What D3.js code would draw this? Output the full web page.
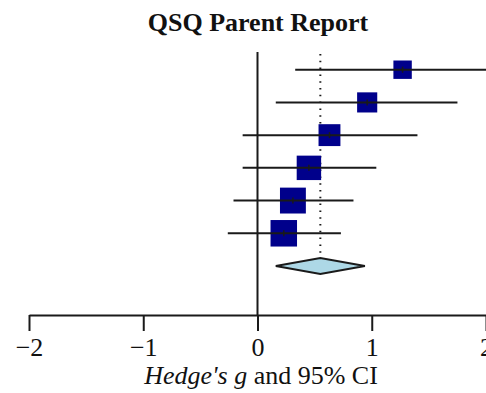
<!DOCTYPE html>
<html>
<head>
<meta charset="utf-8">
<script src="https://cdn.jsdelivr.net/npm/d3@7"></script>
<style>
  html, body { margin: 0; padding: 0; background: #fff; }
  svg { display: block; }
  text { font-family: "Liberation Serif", "Times New Roman", serif; fill: #111; }
</style>
</head>
<body>
<svg id="chart" width="486" height="393"></svg>
<script>
// Study-level effect sizes (Hedges' g) with 95% confidence limits
const studies = ["S1", "S2", "S3", "S4", "S5", "S6"];
const effects = [1.27, 0.96, 0.63, 0.45, 0.31, 0.23];
const lower   = [0.33, 0.16, -0.13, -0.13, -0.21, -0.26];
const upper   = [2.20, 1.75, 1.40, 1.04, 0.84, 0.73];
const weights = [10.6, 12.7, 15.0, 18.7, 21.0, 22.0];   // relative study weight (%)

// Pooled estimate
const pooled = { est: 0.55, lo: 0.16, hi: 0.94 };

const xTicks = [-2, -1, 0, 1, 2];
const titleText = "QSQ Parent Report";

const svg = d3.select("#chart");

const x = d3.scaleLinear().domain([-2, 2]).range([29, 486]);
const y = d3.scaleLinear().domain([0, studies.length]).range([69.7, 266]);
const side = d3.scaleSqrt().domain([0, d3.max(weights)]).range([0, 26.5]);

const axisY = 315;
const stroke = "#1a1a1a";

// Title
svg.append("text")
  .attr("x", 258).attr("y", 31)
  .attr("text-anchor", "middle")
  .attr("font-size", 26).attr("font-weight", "bold")
  .text(titleText);

// Line of no effect
svg.append("line")
  .attr("x1", x(0)).attr("x2", x(0))
  .attr("y1", 52).attr("y2", axisY)
  .attr("stroke", stroke).attr("stroke-width", 2);

// Dotted reference at the pooled estimate
svg.append("line")
  .attr("x1", x(pooled.est)).attr("x2", x(pooled.est))
  .attr("y1", 54).attr("y2", 255)
  .attr("stroke", stroke).attr("stroke-width", 2)
  .attr("stroke-dasharray", "1.5,5.3");

// Study rows
const rows = svg.append("g").selectAll("g")
  .data(studies.map((s, i) => ({ s, i, g: effects[i], lo: lower[i], hi: upper[i], w: weights[i] })))
  .join("g");

rows.append("rect")
  .attr("x", d => x(d.g) - side(d.w) / 2)
  .attr("y", d => y(d.i) - side(d.w) / 2)
  .attr("width", d => side(d.w))
  .attr("height", d => side(d.w))
  .attr("fill", "#00008b");

rows.append("line")
  .attr("x1", d => x(d.lo)).attr("x2", d => x(d.hi))
  .attr("y1", d => y(d.i)).attr("y2", d => y(d.i))
  .attr("stroke", stroke).attr("stroke-width", 2);

rows.append("line")
  .attr("x1", d => x(d.g)).attr("x2", d => x(d.g))
  .attr("y1", d => y(d.i) - 3).attr("y2", d => y(d.i) + 3)
  .attr("stroke", stroke).attr("stroke-width", 1.5);

// Pooled diamond
const yd = y(studies.length);
svg.append("path")
  .attr("d", `M${x(pooled.lo)},${yd} L${x(pooled.est)},${yd - 8} L${x(pooled.hi)},${yd} L${x(pooled.est)},${yd + 8} Z`)
  .attr("fill", "#add8e6").attr("stroke", stroke).attr("stroke-width", 2)
  .attr("stroke-linejoin", "miter");

// X axis
const axis = d3.axisBottom(x)
  .tickValues(xTicks)
  .tickSize(16)
  .tickSizeOuter(0)
  .tickPadding(7)
  .tickFormat(d3.format("d"));

const gx = svg.append("g").attr("transform", `translate(0,${axisY})`).call(axis);
gx.select(".domain").attr("stroke", stroke).attr("stroke-width", 2);
gx.selectAll(".tick line").attr("stroke", stroke).attr("stroke-width", 2);
gx.selectAll(".tick text")
  .attr("font-family", "Liberation Serif, Times New Roman, serif")
  .attr("font-size", 26).attr("fill", "#111");

// Axis title
const at = svg.append("text")
  .attr("x", 261).attr("y", 384)
  .attr("text-anchor", "middle")
  .attr("font-size", 26);
at.append("tspan").attr("font-style", "italic").text("Hedge's g");
at.append("tspan").text(" and 95% CI");
</script>
</body>
</html>
